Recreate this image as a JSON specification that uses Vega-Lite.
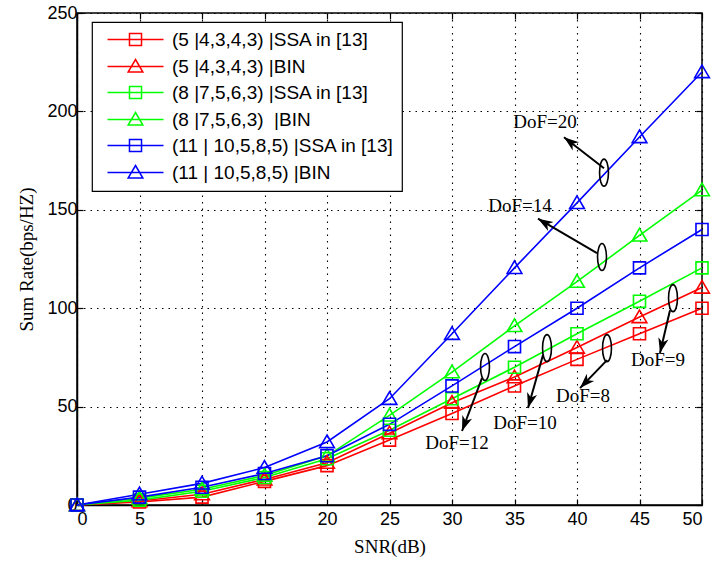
{
  "$schema": "https://vega.github.io/schema/vega-lite/v6.json",
  "width": 625,
  "height": 492,
  "autosize": {"type": "none"},
  "padding": {"left": 77, "top": 13, "right": 10, "bottom": 58},
  "background": "white",
  "config": {
    "view": {"stroke": "#000", "strokeWidth": 1.5},
    "axis": {
      "labelFont": "Liberation Sans", "labelFontSize": 18, "labelColor": "#000",
      "titleFont": "Liberation Serif", "titleFontSize": 19, "titleFontWeight": "normal", "titleColor": "#000",
      "tickColor": "#000", "tickSize": -6, "tickWidth": 1.2,
      "domainColor": "#000", "domainWidth": 1.5,
      "gridColor": "#000", "gridDash": [1.5, 5], "gridWidth": 1.1, "gridOpacity": 1
    }
  },
  "datasets": {
    "curves": [
      {"snr": 0, "rate": 0, "series": "(5 |4,3,4,3) |SSA in [13]", "marker": "sq"},
      {"snr": 5, "rate": 1.5, "series": "(5 |4,3,4,3) |SSA in [13]", "marker": "sq"},
      {"snr": 10, "rate": 4, "series": "(5 |4,3,4,3) |SSA in [13]", "marker": "sq"},
      {"snr": 15, "rate": 12, "series": "(5 |4,3,4,3) |SSA in [13]", "marker": "sq"},
      {"snr": 20, "rate": 20, "series": "(5 |4,3,4,3) |SSA in [13]", "marker": "sq"},
      {"snr": 25, "rate": 33, "series": "(5 |4,3,4,3) |SSA in [13]", "marker": "sq"},
      {"snr": 30, "rate": 46.5, "series": "(5 |4,3,4,3) |SSA in [13]", "marker": "sq"},
      {"snr": 35, "rate": 60.5, "series": "(5 |4,3,4,3) |SSA in [13]", "marker": "sq"},
      {"snr": 40, "rate": 74, "series": "(5 |4,3,4,3) |SSA in [13]", "marker": "sq"},
      {"snr": 45, "rate": 87, "series": "(5 |4,3,4,3) |SSA in [13]", "marker": "sq"},
      {"snr": 50, "rate": 100, "series": "(5 |4,3,4,3) |SSA in [13]", "marker": "sq"},
      {"snr": 0, "rate": 0, "series": "(5 |4,3,4,3) |BIN", "marker": "tri"},
      {"snr": 5, "rate": 2, "series": "(5 |4,3,4,3) |BIN", "marker": "tri"},
      {"snr": 10, "rate": 5.5, "series": "(5 |4,3,4,3) |BIN", "marker": "tri"},
      {"snr": 15, "rate": 13, "series": "(5 |4,3,4,3) |BIN", "marker": "tri"},
      {"snr": 20, "rate": 21.5, "series": "(5 |4,3,4,3) |BIN", "marker": "tri"},
      {"snr": 25, "rate": 36.5, "series": "(5 |4,3,4,3) |BIN", "marker": "tri"},
      {"snr": 30, "rate": 52, "series": "(5 |4,3,4,3) |BIN", "marker": "tri"},
      {"snr": 35, "rate": 65, "series": "(5 |4,3,4,3) |BIN", "marker": "tri"},
      {"snr": 40, "rate": 80, "series": "(5 |4,3,4,3) |BIN", "marker": "tri"},
      {"snr": 45, "rate": 95.5, "series": "(5 |4,3,4,3) |BIN", "marker": "tri"},
      {"snr": 50, "rate": 110.5, "series": "(5 |4,3,4,3) |BIN", "marker": "tri"},
      {"snr": 0, "rate": 0, "series": "(8 |7,5,6,3) |SSA in [13]", "marker": "sq"},
      {"snr": 5, "rate": 2.5, "series": "(8 |7,5,6,3) |SSA in [13]", "marker": "sq"},
      {"snr": 10, "rate": 7, "series": "(8 |7,5,6,3) |SSA in [13]", "marker": "sq"},
      {"snr": 15, "rate": 14, "series": "(8 |7,5,6,3) |SSA in [13]", "marker": "sq"},
      {"snr": 20, "rate": 23.5, "series": "(8 |7,5,6,3) |SSA in [13]", "marker": "sq"},
      {"snr": 25, "rate": 38, "series": "(8 |7,5,6,3) |SSA in [13]", "marker": "sq"},
      {"snr": 30, "rate": 54, "series": "(8 |7,5,6,3) |SSA in [13]", "marker": "sq"},
      {"snr": 35, "rate": 70, "series": "(8 |7,5,6,3) |SSA in [13]", "marker": "sq"},
      {"snr": 40, "rate": 87, "series": "(8 |7,5,6,3) |SSA in [13]", "marker": "sq"},
      {"snr": 45, "rate": 103.5, "series": "(8 |7,5,6,3) |SSA in [13]", "marker": "sq"},
      {"snr": 50, "rate": 120.5, "series": "(8 |7,5,6,3) |SSA in [13]", "marker": "sq"},
      {"snr": 0, "rate": 0, "series": "(8 |7,5,6,3)\u00a0 |BIN", "marker": "tri"},
      {"snr": 5, "rate": 3.5, "series": "(8 |7,5,6,3)\u00a0 |BIN", "marker": "tri"},
      {"snr": 10, "rate": 8, "series": "(8 |7,5,6,3)\u00a0 |BIN", "marker": "tri"},
      {"snr": 15, "rate": 15, "series": "(8 |7,5,6,3)\u00a0 |BIN", "marker": "tri"},
      {"snr": 20, "rate": 25, "series": "(8 |7,5,6,3)\u00a0 |BIN", "marker": "tri"},
      {"snr": 25, "rate": 45.5, "series": "(8 |7,5,6,3)\u00a0 |BIN", "marker": "tri"},
      {"snr": 30, "rate": 67.5, "series": "(8 |7,5,6,3)\u00a0 |BIN", "marker": "tri"},
      {"snr": 35, "rate": 91, "series": "(8 |7,5,6,3)\u00a0 |BIN", "marker": "tri"},
      {"snr": 40, "rate": 113.5, "series": "(8 |7,5,6,3)\u00a0 |BIN", "marker": "tri"},
      {"snr": 45, "rate": 137, "series": "(8 |7,5,6,3)\u00a0 |BIN", "marker": "tri"},
      {"snr": 50, "rate": 160, "series": "(8 |7,5,6,3)\u00a0 |BIN", "marker": "tri"},
      {"snr": 0, "rate": 0, "series": "(11 | 10,5,8,5) |SSA in [13]", "marker": "sq"},
      {"snr": 5, "rate": 4, "series": "(11 | 10,5,8,5) |SSA in [13]", "marker": "sq"},
      {"snr": 10, "rate": 9, "series": "(11 | 10,5,8,5) |SSA in [13]", "marker": "sq"},
      {"snr": 15, "rate": 16, "series": "(11 | 10,5,8,5) |SSA in [13]", "marker": "sq"},
      {"snr": 20, "rate": 25, "series": "(11 | 10,5,8,5) |SSA in [13]", "marker": "sq"},
      {"snr": 25, "rate": 41, "series": "(11 | 10,5,8,5) |SSA in [13]", "marker": "sq"},
      {"snr": 30, "rate": 60.5, "series": "(11 | 10,5,8,5) |SSA in [13]", "marker": "sq"},
      {"snr": 35, "rate": 80.5, "series": "(11 | 10,5,8,5) |SSA in [13]", "marker": "sq"},
      {"snr": 40, "rate": 100, "series": "(11 | 10,5,8,5) |SSA in [13]", "marker": "sq"},
      {"snr": 45, "rate": 120.5, "series": "(11 | 10,5,8,5) |SSA in [13]", "marker": "sq"},
      {"snr": 50, "rate": 140, "series": "(11 | 10,5,8,5) |SSA in [13]", "marker": "sq"},
      {"snr": 0, "rate": 0, "series": "(11 | 10,5,8,5) |BIN", "marker": "tri"},
      {"snr": 5, "rate": 5.5, "series": "(11 | 10,5,8,5) |BIN", "marker": "tri"},
      {"snr": 10, "rate": 11, "series": "(11 | 10,5,8,5) |BIN", "marker": "tri"},
      {"snr": 15, "rate": 19, "series": "(11 | 10,5,8,5) |BIN", "marker": "tri"},
      {"snr": 20, "rate": 32, "series": "(11 | 10,5,8,5) |BIN", "marker": "tri"},
      {"snr": 25, "rate": 54, "series": "(11 | 10,5,8,5) |BIN", "marker": "tri"},
      {"snr": 30, "rate": 87, "series": "(11 | 10,5,8,5) |BIN", "marker": "tri"},
      {"snr": 35, "rate": 120.5, "series": "(11 | 10,5,8,5) |BIN", "marker": "tri"},
      {"snr": 40, "rate": 153.5, "series": "(11 | 10,5,8,5) |BIN", "marker": "tri"},
      {"snr": 45, "rate": 187, "series": "(11 | 10,5,8,5) |BIN", "marker": "tri"},
      {"snr": 50, "rate": 220, "series": "(11 | 10,5,8,5) |BIN", "marker": "tri"}
    ],
    "labels": [
      {"x": 37.44, "y": 194.5, "text": "DoF=20"},
      {"x": 35.44, "y": 151.9, "text": "DoF=14"},
      {"x": 30.4, "y": 31.5, "text": "DoF=12"},
      {"x": 35.84, "y": 41.6, "text": "DoF=10"},
      {"x": 40.48, "y": 55.4, "text": "DoF=8"},
      {"x": 46.48, "y": 73.6, "text": "DoF=9"}
    ],
    "ellipses": [
      {"x": 42.16, "y": 168.9},
      {"x": 42.0, "y": 126.0},
      {"x": 32.64, "y": 70.1},
      {"x": 37.6, "y": 79.7},
      {"x": 42.4, "y": 79.7},
      {"x": 47.68, "y": 105.1}
    ],
    "arrows": [
      {"x1": 42.16, "y1": 171.1, "x2": 38.96, "y2": 186.9, "dir": 307.8},
      {"x1": 41.6, "y1": 128.0, "x2": 36.88, "y2": 145.5, "dir": 301.4},
      {"x1": 32.4, "y1": 64.5, "x2": 30.8, "y2": 37.6, "dir": 200.3},
      {"x1": 37.28, "y1": 76.2, "x2": 36.08, "y2": 49.3, "dir": 195.8},
      {"x1": 42.4, "y1": 73.6, "x2": 40.24, "y2": 59.4, "dir": 224},
      {"x1": 47.44, "y1": 99.0, "x2": 46.64, "y2": 77.2, "dir": 193.1}
    ]
  },
  "layer": [
    {
      "data": {"name": "curves"},
      "mark": {"type": "line", "strokeWidth": 1.6},
      "encoding": {
        "x": {"field": "snr", "type": "quantitative",
          "scale": {"domain": [0, 50], "nice": false},
          "axis": {"orient": "bottom", "title": "SNR(dB)", "values": [0,5,10,15,20,25,30,35,40,45,50], "grid": true, "labelPadding": 11, "titlePadding": 9}},
        "y": {"field": "rate", "type": "quantitative",
          "scale": {"domain": [0, 250], "nice": false},
          "axis": {"orient": "left", "title": "Sum Rate(bps/HZ)", "values": [0,50,100,150,200,250], "grid": true, "labelPadding": 6, "titlePadding": 10}},
        "color": {"field": "series", "type": "nominal",
          "scale": {"domain": ["(5 |4,3,4,3) |SSA in [13]", "(5 |4,3,4,3) |BIN", "(8 |7,5,6,3) |SSA in [13]", "(8 |7,5,6,3)\u00a0 |BIN", "(11 | 10,5,8,5) |SSA in [13]", "(11 | 10,5,8,5) |BIN"],
                    "range": ["#ff0000", "#ff0000", "#00ff00", "#00ff00", "#0000ff", "#0000ff"]},
          "legend": {
            "title": null, "orient": "none", "legendX": 15, "legendY": 9,
            "fillColor": "white", "strokeColor": "#000", "padding": 8, "cornerRadius": 0,
            "labelFont": "Liberation Sans", "labelFontSize": 19, "labelColor": "#000", "labelLimit": 450,
            "symbolSize": 196, "symbolStrokeWidth": 1.5, "symbolOffset": 26, "labelOffset": 27, "rowPadding": 6,
            "encode": {
              "legend": {"update": {"strokeWidth": {"value": 1.2}}},
              "symbols": {"update": {
                "shape": {"signal": "indexof(datum.value, 'BIN') >= 0 ? 'M-4,0H4M0,-1L1.05,0.8H-1.05Z' : 'M-4,0H4M-0.86,-0.86H0.86V0.86H-0.86Z'"},
                "fill": {"value": "transparent"},
                "strokeWidth": {"value": 1.5}
              }}
            }
          }},
        "detail": {"field": "series"}
      }
    },
    {
      "data": {"name": "curves"},
      "mark": {"type": "point", "filled": false, "strokeWidth": 1.6, "opacity": 1, "size": 196},
      "encoding": {
        "x": {"field": "snr", "type": "quantitative", "axis": null},
        "y": {"field": "rate", "type": "quantitative", "axis": null},
        "color": {"field": "series", "type": "nominal"},
        "shape": {"field": "marker", "type": "nominal",
          "scale": {"domain": ["sq", "tri"], "range": ["M-0.86,-0.86H0.86V0.86H-0.86Z", "M0,-1L1.05,0.8H-1.05Z"]},
          "legend": null}
      }
    },
    {
      "data": {"name": "ellipses"},
      "mark": {"type": "point", "filled": false, "stroke": "#000", "strokeWidth": 1.6, "opacity": 1, "size": 729,
        "shape": "M0,-1A0.33,1 0 1,1 0,1A0.33,1 0 1,1 0,-1Z"},
      "encoding": {
        "x": {"field": "x", "type": "quantitative", "axis": {"orient": "top", "labels": false, "grid": false, "domain": false, "title": null, "values": [0,5,10,15,20,25,30,35,40,45,50]}},
        "y": {"field": "y", "type": "quantitative", "axis": {"orient": "right", "labels": false, "grid": false, "domain": false, "title": null, "values": [0,50,100,150,200,250]}}
      }
    },
    {
      "data": {"name": "arrows"},
      "mark": {"type": "rule", "color": "#000", "strokeWidth": 2},
      "encoding": {
        "x": {"field": "x1", "type": "quantitative", "axis": null},
        "y": {"field": "y1", "type": "quantitative", "axis": null},
        "x2": {"field": "x2"},
        "y2": {"field": "y2"}
      }
    },
    {
      "data": {"name": "arrows"},
      "mark": {"type": "point", "filled": true, "color": "#000", "opacity": 1, "size": 353,
        "shape": "M0,0L0.55,1.6L0,1.15L-0.55,1.6Z"},
      "encoding": {
        "x": {"field": "x2", "type": "quantitative", "axis": null},
        "y": {"field": "y2", "type": "quantitative", "axis": null},
        "angle": {"field": "dir", "type": "quantitative", "scale": null}
      }
    },
    {
      "data": {"name": "labels"},
      "mark": {"type": "text", "font": "Liberation Serif", "fontSize": 19, "color": "#000", "align": "center", "baseline": "middle"},
      "encoding": {
        "x": {"field": "x", "type": "quantitative", "axis": null},
        "y": {"field": "y", "type": "quantitative", "axis": null},
        "text": {"field": "text"}
      }
    }
  ]
}
